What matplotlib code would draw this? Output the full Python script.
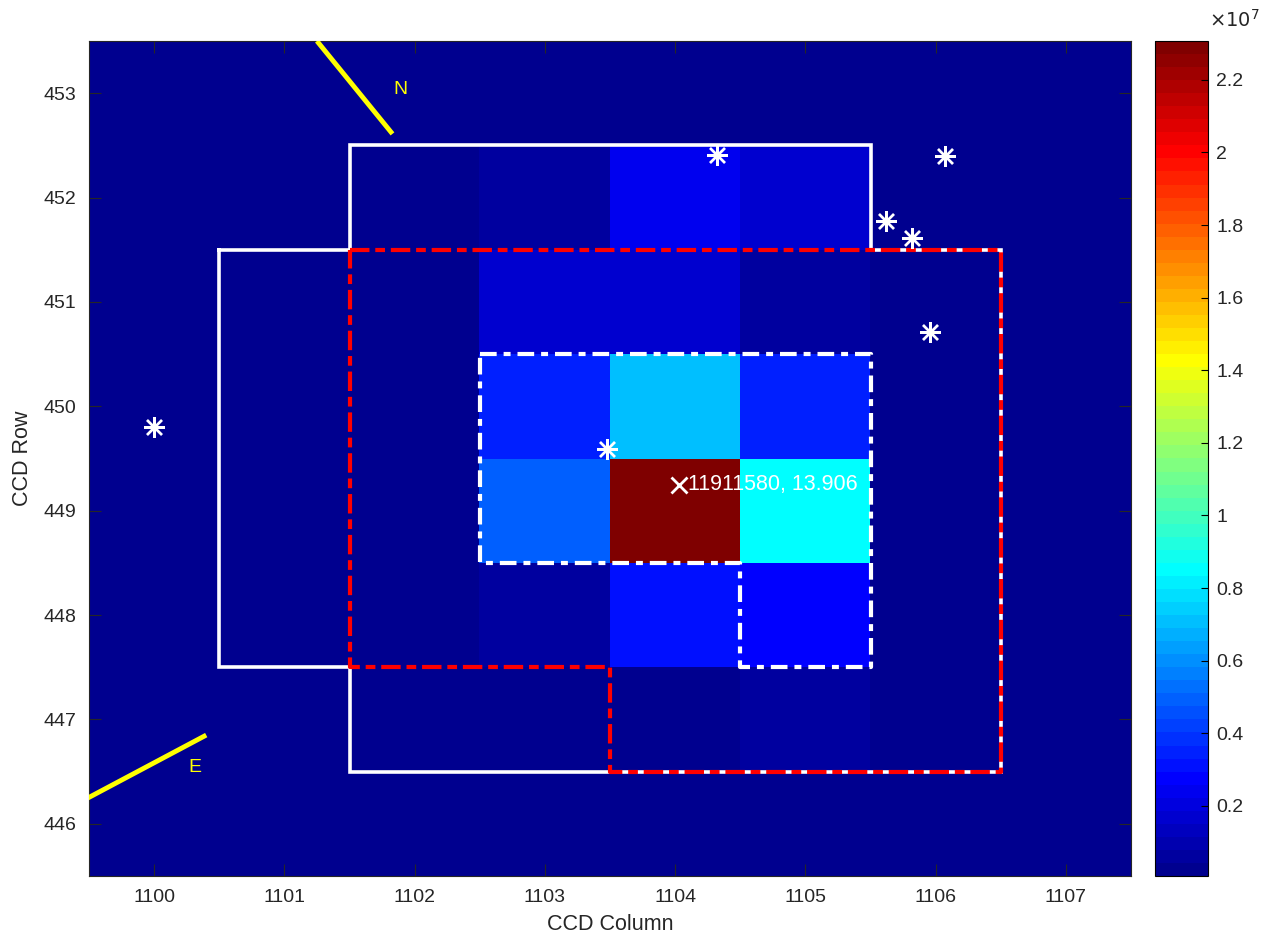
import numpy as np
import matplotlib
matplotlib.use("Agg")
import matplotlib.pyplot as plt
from matplotlib.colors import ListedColormap

plt.rcParams['font.family'] = ['Liberation Sans', 'DejaVu Sans']
plt.rcParams['lines.scale_dashes'] = False

# ---------------- data ----------------
columns = [1100, 1101, 1102, 1103, 1104, 1105, 1106, 1107]
rows = [446, 447, 448, 449, 450, 451, 452, 453]
bg = 7.0e4
# flux per pixel (rows listed from 446 up to 453)
flux_446 = [bg, bg, bg, bg, bg, bg, bg, bg]
flux_447 = [bg, bg, 1.5e5, 1.5e5, 3.0e5, 5.0e5, bg, bg]
flux_448 = [bg, bg, 2.0e5, 5.0e5, 3.1e6, 2.76e6, bg, bg]
flux_449 = [bg, bg, 2.0e5, 4.9e6, 2.307e7, 8.5e6, bg, bg]
flux_450 = [bg, bg, 3.0e5, 3.5e6, 7.1e6, 3.5e6, bg, bg]
flux_451 = [bg, bg, 3.0e5, 1.6e6, 1.7e6, 5.0e5, bg, bg]
flux_452 = [bg, bg, 1.5e5, 5.0e5, 2.4e6, 1.6e6, bg, bg]
flux_453 = [bg, bg, bg, bg, bg, bg, bg, bg]

# apertures (polygon vertices: column, row)
outer_col = [1100.5, 1101.5, 1101.5, 1105.5, 1105.5, 1106.5, 1106.5, 1101.5, 1101.5, 1100.5, 1100.5]
outer_row = [451.5, 451.5, 452.5, 452.5, 451.5, 451.5, 446.5, 446.5, 447.5, 447.5, 451.5]
red_col = [1101.5, 1106.5, 1106.5, 1103.5, 1103.5, 1101.5, 1101.5]
red_row = [451.5, 451.5, 446.5, 446.5, 447.5, 447.5, 451.5]
inner_col = [1102.5, 1105.5, 1105.5, 1104.5, 1104.5, 1102.5, 1102.5]
inner_row = [450.5, 450.5, 447.5, 447.5, 448.5, 448.5, 450.5]

# nearby stars
star_col = [1100.0, 1104.32, 1106.07, 1105.62, 1105.82, 1105.96, 1103.48]
star_row = [449.8, 452.41, 452.40, 451.78, 451.61, 450.71, 449.59]

# target
target_col = 1104.03
target_row = 449.25
target_label = "11911580, 13.906"

# compass arrows
north_col = [1101.25, 1101.83]
north_row = [453.5, 452.61]
east_col = [1099.45, 1100.40]
east_row = [446.22, 446.85]
north_text = (1101.89, 453.04)
east_text = (1100.31, 446.54)

cbar_ticks = [0.2e7, 0.4e7, 0.6e7, 0.8e7, 1.0e7, 1.2e7, 1.4e7, 1.6e7, 1.8e7, 2.0e7, 2.2e7]

# ---------------- MATLAB jet(64) ----------------
def matlab_jet(n=64):
    m = int(np.ceil(n / 4))
    u = np.concatenate([np.arange(1, m + 1) / m, np.ones(m - 1), np.arange(m, 0, -1) / m])
    g = int(np.ceil(m / 2)) - (1 if n % 4 == 1 else 0) + np.arange(1, len(u) + 1)
    r = g + m
    b = g - m
    J = np.zeros((n, 3))
    ok = r <= n
    J[r[ok] - 1, 0] = u[ok]
    ok = (g <= n)
    J[g[ok] - 1, 1] = u[ok]
    ok = b >= 1
    J[b[ok] - 1, 2] = u[ok]
    return ListedColormap(J)

cmap = matlab_jet(64)

grid = np.array([flux_446, flux_447, flux_448, flux_449, flux_450, flux_451, flux_452, flux_453])

fig = plt.figure(figsize=(12.7, 9.43), dpi=100)
ax = fig.add_axes([89 / 1270, 67 / 943, 1042 / 1270, 835 / 943])
cax = fig.add_axes([1155 / 1270, 67 / 943, 53 / 1270, 835 / 943])

dc = (columns[1] - columns[0]) / 2
dr = (rows[1] - rows[0]) / 2
im = ax.imshow(grid, origin='lower', cmap=cmap, interpolation='nearest', aspect='auto',
               extent=[columns[0] - dc, columns[-1] + dc, rows[0] - dr, rows[-1] + dr],
               vmin=grid.min(), vmax=grid.max())

ax.plot(outer_col, outer_row, color='white', lw=2.6, solid_joinstyle='miter', zorder=3)
ax.plot(red_col, red_row, color='red', lw=3.0, linestyle=(0, (14, 4.2, 7, 4.2)), zorder=4)
ax.plot(inner_col, inner_row, color='white', lw=3.0, linestyle=(0, (12, 5, 5, 5)), zorder=5)

ax.plot(star_col, star_row, linestyle='none', marker=(8, 2, 0), markersize=15,
        markeredgewidth=1.7, color='white', zorder=6)
ax.plot([target_col], [target_row], linestyle='none', marker='x', markersize=11,
        markeredgewidth=2.0, color='white', zorder=6)
ax.text(target_col + 0.07, target_row, target_label, color='white', fontsize=15.5,
        va='center', ha='left', zorder=7)

ax.plot(north_col, north_row, color='yellow', lw=3.5, solid_capstyle='butt', zorder=6)
ax.plot(east_col, east_row, color='yellow', lw=3.5, solid_capstyle='butt', zorder=6)
ax.text(*north_text, 'N', color='yellow', fontsize=14, ha='center', va='center')
ax.text(*east_text, 'E', color='yellow', fontsize=14, ha='center', va='center')

ax.set_xlim(columns[0] - dc, columns[-1] + dc)
ax.set_ylim(rows[0] - dr, rows[-1] + dr)
ax.set_xticks(columns)
ax.set_yticks(rows)
ax.tick_params(direction='in', length=8.5, width=0.8, color='#262626', labelcolor='#262626',
               labelsize=14, top=True, right=True, pad=9)
for s in ax.spines.values():
    s.set_color('#262626')
    s.set_linewidth(0.8)
ax.set_xlabel('CCD Column', fontsize=15.5, color='#262626', labelpad=6)
ax.set_ylabel('CCD Row', fontsize=15.5, color='#262626', labelpad=8)

cb = fig.colorbar(im, cax=cax)
cb.set_ticks(cbar_ticks)
cb.set_ticklabels(['%g' % (t / 1e7) for t in cbar_ticks])
cax.tick_params(direction='in', length=5, width=0.8, color='black', labelcolor='#262626',
                labelsize=14, right=True, left=False, pad=6)
cb.outline.set_edgecolor('black')
cb.outline.set_linewidth(0.8)
fig.text(1209 / 1270, 1 - 20 / 943, r'$\times10^{7}$', fontsize=14, color='#262626',
         ha='left', va='center', family='DejaVu Sans')

fig.savefig('out.png', dpi=100)
